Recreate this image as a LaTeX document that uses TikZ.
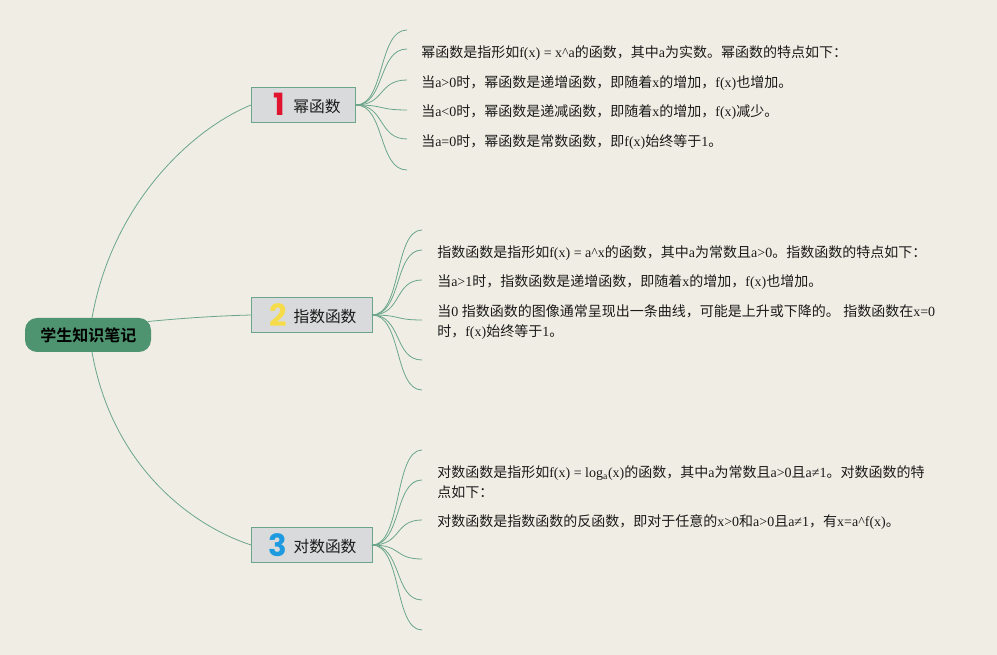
\documentclass[tikz,border=0pt]{standalone}
\usepackage{fontspec}
\setmainfont{Liberation Serif}
\newfontfamily\cjkf{Noto Sans CJK SC}
\newfontfamily\cjkb{Noto Sans CJK SC Bold}
\newfontfamily\numf{Poppins Bold}
\newcommand{\zh}[1]{{\cjkf #1}}
\definecolor{bgc}{HTML}{F0EEE4}
\definecolor{linec}{HTML}{6AA58C}
\definecolor{rootc}{HTML}{4F9470}
\definecolor{boxc}{HTML}{D9DADB}
\definecolor{txt}{HTML}{1A1A1A}
\definecolor{numa}{HTML}{E0142F}
\definecolor{numb}{HTML}{F7DC4A}
\definecolor{numc}{HTML}{1E9BE0}
\tikzset{
  rootbox/.style={draw=none,fill=rootc,rounded corners=9pt,minimum width=94.5pt,minimum height=25.5pt,inner sep=0pt,font=\cjkb\fontsize{12}{14}\selectfont,text=black},
  topicbox/.style={draw=linec,line width=0.7pt,fill=boxc,minimum height=26pt,inner sep=0pt,anchor=north west},
  topiclabel/.style={font=\cjkf\fontsize{11.8}{14}\selectfont,text=txt,inner sep=0pt},
  numeral/.style={font=\numf\fontsize{23}{24}\selectfont,inner sep=0pt},
  leaftext/.style={anchor=west,inner sep=0pt,text=txt,font=\fontsize{10.5}{15}\selectfont,align=left},
  conn/.style={draw=linec,line width=0.6pt},
}
\begin{document}
\begin{tikzpicture}[x=0.75pt,y=-0.75pt]
\useasboundingbox[fill=bgc] (0,0) rectangle (997,655);
% root and topics
\node[rootbox] (root) at (88,335) {\hspace{0.7pt}学生知识笔记};
\node[topicbox,minimum width=78pt] (t1) at (251,87.5) {};
\node[topicbox,minimum width=90.5pt] (t2) at (251,297.5) {};
\node[topicbox,minimum width=90.5pt] (t3) at (251,527.5) {};
\node[numeral,text=numa] (n1) at (279,104.5) {1};
\node[numeral,text=numb] (n2) at (278,315.5) {2};
\node[numeral,text=numc] (n3) at (278,545) {3};
\node[topiclabel] (l1) at (317,106.5) {幂函数};
\node[topiclabel] (l2) at (325,316.5) {指数函数};
\node[topiclabel] (l3) at (325,546.5) {对数函数};
% anchor points
\coordinate (r1) at (92,318);
\coordinate (r2) at (148,321.5);
\coordinate (r3) at (92,352);
\coordinate (a1) at (251,105);
\coordinate (a2) at (251,315);
\coordinate (a3) at (251,545);
\coordinate (s1) at (356,105);
\coordinate (s2) at (372,315);
\coordinate (s3) at (372,545);
\draw[conn] (r1) .. controls (112,205) and (190,130) .. (a1);
\draw[conn] (r2) .. controls (185,318) and (215,316) .. (a2);
\draw[conn] (r3) .. controls (112,465) and (190,525) .. (a3);
% leaves of topic 1
\foreach \n/\yy in {a/30,b/49,c/80,d/110,e/139,f/170}{
  \coordinate (p\n) at (407,\yy);
  \draw[conn] (s1) .. controls (385,105) and (378,\yy) .. (p\n);
}
% leaves of topic 2
\foreach \n/\yy in {a/230,b/250,c/280,d/320,e/360,f/390}{
  \coordinate (q\n) at (422,\yy);
  \draw[conn] (s2) .. controls (402,315) and (394,\yy) .. (q\n);
}
% leaves of topic 3
\foreach \n/\yy in {a/450,b/480,c/520,d/559,e/600,f/630}{
  \coordinate (u\n) at (422,\yy);
  \draw[conn] (s3) .. controls (402,545) and (394,\yy) .. (u\n);
}
% texts
\node[leaftext] (x1) at (421,53) {\zh{幂函数是指形如}f(x) = x\textasciicircum a\zh{的函数，其中}a\zh{为实数。幂函数的特点如下：}};
\node[leaftext] (x2) at (421,83) {\zh{当}a>0\zh{时，幂函数是递增函数，即随着}x\zh{的增加，}f(x)\zh{也增加。}};
\node[leaftext] (x3) at (421,112.5) {\zh{当}a<0\zh{时，幂函数是递减函数，即随着}x\zh{的增加，}f(x)\zh{减少。}};
\node[leaftext] (x4) at (421,142.5) {\zh{当}a=0\zh{时，幂函数是常数函数，即}f(x)\zh{始终等于}1\zh{。}};
\node[leaftext] (y1) at (437,253) {\zh{指数函数是指形如}f(x) = a\textasciicircum x\zh{的函数，其中}a\zh{为常数且}a>0\zh{。指数函数的特点如下：}};
\node[leaftext] (y2) at (437,282.5) {\zh{当}a>1\zh{时，指数函数是递增函数，即随着}x\zh{的增加，}f(x)\zh{也增加。}};
\node[leaftext] (y3) at (437,322) {\zh{当}0 \zh{指数函数的图像通常呈现出一条曲线，可能是上升或下降的。} \zh{指数函数在}x=0\\\zh{时，}f(x)\zh{始终等于}1\zh{。}};
\node[leaftext] (w1) at (437,482) {\zh{对数函数是指形如}f(x) = log\textsubscript{a}(x)\zh{的函数，其中}a\zh{为常数且}a>0\zh{且}a≠1\zh{。对数函数的特}\\\zh{点如下：}};
\node[leaftext] (w2) at (437,522.5) {\zh{对数函数是指数函数的反函数，即对于任意的}x>0\zh{和}a>0\zh{且}a≠1\zh{，有}x=a\textasciicircum f(x)\zh{。}};
\end{tikzpicture}
\end{document}
